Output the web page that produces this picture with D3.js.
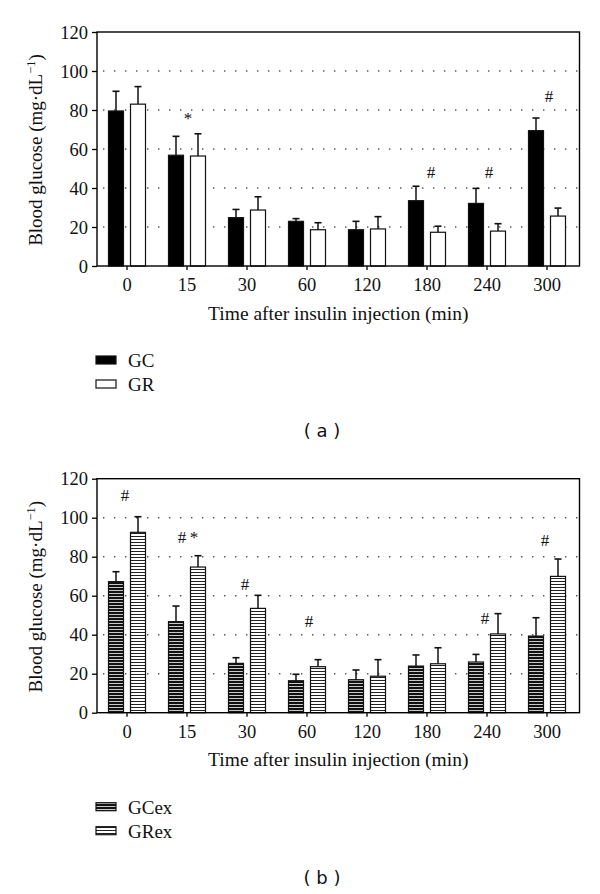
<!DOCTYPE html>
<html>
<head>
<meta charset="utf-8">
<script src="https://cdn.jsdelivr.net/npm/d3@7"></script>
<style>
  html, body { margin: 0; padding: 0; background: #fff; }
  svg { display: block; }
</style>
</head>
<body>
<svg id="chart" width="600" height="894"></svg>
<script>
// ---------- data ----------
const categories = ["0", "15", "30", "60", "120", "180", "240", "300"];
const yTicks = [0, 20, 40, 60, 80, 100, 120];

// Panel (a)
const gcMean = [79.5, 56.8, 24.8, 22.9, 18.6, 33.5, 32.1, 69.4];
const gcSem  = [10.1, 9.7, 4.2, 1.4, 4.3, 7.4, 7.7, 6.5];
const grMean = [83.0, 56.4, 28.7, 18.6, 19.0, 17.3, 17.9, 25.6];
const grSem  = [9.0, 11.4, 6.8, 3.6, 6.3, 3.1, 3.8, 4.1];
const marksA = [
  { cat: "15", text: "*", value: 72.8, shift: 1 },
  { cat: "180", text: "#", value: 45.2, shift: 4 },
  { cat: "240", text: "#", value: 45.2, shift: 2 },
  { cat: "300", text: "#", value: 84.0, shift: 2 }
];

// Panel (b)
const gcexMean = [67.2, 46.7, 25.3, 16.4, 16.9, 23.9, 26.0, 39.3];
const gcexSem  = [5.1, 8.0, 2.9, 3.3, 5.0, 5.7, 3.9, 9.4];
const grexMean = [92.5, 74.7, 53.5, 23.6, 18.7, 25.1, 40.4, 69.9];
const grexSem  = [8.0, 5.8, 6.7, 3.6, 8.5, 8.2, 10.4, 8.9];
const marksB = [
  { cat: "0", text: "#", value: 108.8, shift: -2 },
  { cat: "15", text: "#\u2009*", value: 87.0, shift: 1 },
  { cat: "30", text: "#", value: 63.0, shift: -2 },
  { cat: "60", text: "#", value: 43.8, shift: 2 },
  { cat: "240", text: "#", value: 45.5, shift: -2 },
  { cat: "300", text: "#", value: 85.6, shift: -2 }
];

const xTitle = "Time after insulin injection (min)";

// ---------- drawing ----------
const svg = d3.select("#chart");
const serif = "'Liberation Serif', 'Times New Roman', serif";

const defs = svg.append("defs");
// dark striped pattern (GCex)
const pDark = defs.append("pattern").attr("id", "stripeDark")
  .attr("patternUnits", "userSpaceOnUse").attr("width", 6).attr("height", 3);
pDark.append("rect").attr("width", 6).attr("height", 3).attr("fill", "#111");
pDark.append("rect").attr("y", 2).attr("width", 6).attr("height", 1).attr("fill", "#c8c8c8");
// light striped pattern (GRex)
const pLight = defs.append("pattern").attr("id", "stripeLight")
  .attr("patternUnits", "userSpaceOnUse").attr("width", 6).attr("height", 3);
pLight.append("rect").attr("width", 6).attr("height", 3).attr("fill", "#fff");
pLight.append("rect").attr("y", 2).attr("width", 6).attr("height", 1).attr("fill", "#222");

const xLeft = 97, xRight = 577, frameRight = 579.5;

function panel(cfg) {
  const g = svg.append("g");
  const y = d3.scaleLinear().domain([0, 120]).range([cfg.bottom, cfg.bottom - 234]);
  const x = d3.scaleBand().domain(categories).range([xLeft, xRight]).paddingInner(0).paddingOuter(0);
  const xc = c => x(c) + x.bandwidth() / 2;
  const barW = 15, off = 11;

  // dotted gridlines
  g.append("g").selectAll("line").data(yTicks.filter(t => t > 0 && t < 120)).join("line")
    .attr("x1", xLeft + 6).attr("x2", frameRight)
    .attr("y1", d => y(d)).attr("y2", d => y(d))
    .attr("stroke", "#555").attr("stroke-width", 1.4)
    .attr("stroke-dasharray", "1.4 9.6");

  // y axis
  const yAxis = d3.axisLeft(y).tickValues(yTicks).tickSize(5).tickPadding(4);
  const ya = g.append("g").attr("transform", `translate(${xLeft},0)`).call(yAxis);
  ya.select(".domain").remove();
  ya.selectAll(".tick line").attr("stroke", "#000").attr("stroke-width", 1.3);
  ya.selectAll(".tick text").attr("font-family", serif).attr("font-size", 18.5).attr("fill", "#111")
    .attr("dy", "0.33em");

  // x axis
  const xAxis = d3.axisBottom(x).tickSize(4).tickPadding(8);
  const xa = g.append("g").attr("transform", `translate(0,${cfg.bottom})`).call(xAxis);
  xa.select(".domain").remove();
  xa.selectAll(".tick line").attr("stroke", "#000").attr("stroke-width", 1.3);
  xa.selectAll(".tick text").attr("font-family", serif).attr("font-size", 18.5).attr("fill", "#111");

  // series
  const series = cfg.series;
  series.forEach((s, si) => {
    const dx = si === 0 ? -off : off;
    const data = categories.map((c, i) => ({ c, m: s.mean[i], e: s.sem[i] }));
    const sg = g.append("g");
    // error bars (upper only)
    sg.selectAll("line.whisk").data(data).join("line").attr("class", "whisk")
      .attr("x1", d => xc(d.c) + dx).attr("x2", d => xc(d.c) + dx)
      .attr("y1", d => y(d.m)).attr("y2", d => y(d.m + d.e))
      .attr("stroke", "#111").attr("stroke-width", 1.5);
    sg.selectAll("line.cap").data(data).join("line").attr("class", "cap")
      .attr("x1", d => xc(d.c) + dx - 3.5).attr("x2", d => xc(d.c) + dx + 3.5)
      .attr("y1", d => y(d.m + d.e)).attr("y2", d => y(d.m + d.e))
      .attr("stroke", "#111").attr("stroke-width", 1.6);
    // bars
    sg.selectAll("rect").data(data).join("rect")
      .attr("x", d => xc(d.c) + dx - barW / 2)
      .attr("y", d => y(d.m))
      .attr("width", barW)
      .attr("height", d => y(0) - y(d.m))
      .attr("fill", s.fill).attr("stroke", "#111").attr("stroke-width", 1.2);
  });

  // frame
  g.append("rect").attr("x", xLeft).attr("y", y(120)).attr("width", frameRight - xLeft)
    .attr("height", y(0) - y(120)).attr("fill", "none").attr("stroke", "#000").attr("stroke-width", 1.4);

  // significance marks
  g.append("g").selectAll("text").data(cfg.marks).join("text")
    .attr("x", d => xc(d.cat) + d.shift).attr("y", d => y(d.value))
    .attr("text-anchor", "middle").attr("font-family", serif).attr("font-size", 17).attr("fill", "#111")
    .text(d => d.text);

  // y title
  const yt = g.append("text")
    .attr("transform", `translate(42,${cfg.bottom - 116}) rotate(-90)`)
    .attr("text-anchor", "middle").attr("font-family", serif).attr("font-size", 19).attr("fill", "#111");
  yt.append("tspan").text("Blood glucose (mg\u00b7dL");
  yt.append("tspan").attr("font-size", 12.5).attr("dy", -7).text("\u22121");
  yt.append("tspan").attr("dy", 7).text(")");

  // x title
  g.append("text").attr("x", (xLeft + frameRight) / 2).attr("y", cfg.bottom + 53.5)
    .attr("text-anchor", "middle").attr("font-family", serif).attr("font-size", 19.5).attr("fill", "#111")
    .text(xTitle);

  // legend
  const lg = g.append("g");
  series.forEach((s, i) => {
    const ly = cfg.bottom + 90 + i * 24;
    lg.append("rect").attr("x", 96).attr("y", ly).attr("width", 20).attr("height", 8)
      .attr("fill", s.fill).attr("stroke", "#111").attr("stroke-width", 1.2);
    lg.append("text").attr("x", 128).attr("y", ly + 11)
      .attr("font-family", serif).attr("font-size", 19).attr("fill", "#111").text(s.name);
  });

  // panel label
  g.append("text").attr("x", 322).attr("y", cfg.bottom + 171)
    .attr("text-anchor", "middle").attr("font-family", "'DejaVu Sans', sans-serif")
    .attr("font-size", 18).attr("fill", "#111").attr("xml:space", "preserve").text(cfg.label);
}

panel({
  bottom: 266,
  series: [
    { name: "GC", mean: gcMean, sem: gcSem, fill: "#000" },
    { name: "GR", mean: grMean, sem: grSem, fill: "#fff" }
  ],
  marks: marksA,
  label: "( a )"
});

panel({
  bottom: 712.7,
  series: [
    { name: "GCex", mean: gcexMean, sem: gcexSem, fill: "url(#stripeDark)" },
    { name: "GRex", mean: grexMean, sem: grexSem, fill: "url(#stripeLight)" }
  ],
  marks: marksB,
  label: "( b )"
});
</script>
</body>
</html>
